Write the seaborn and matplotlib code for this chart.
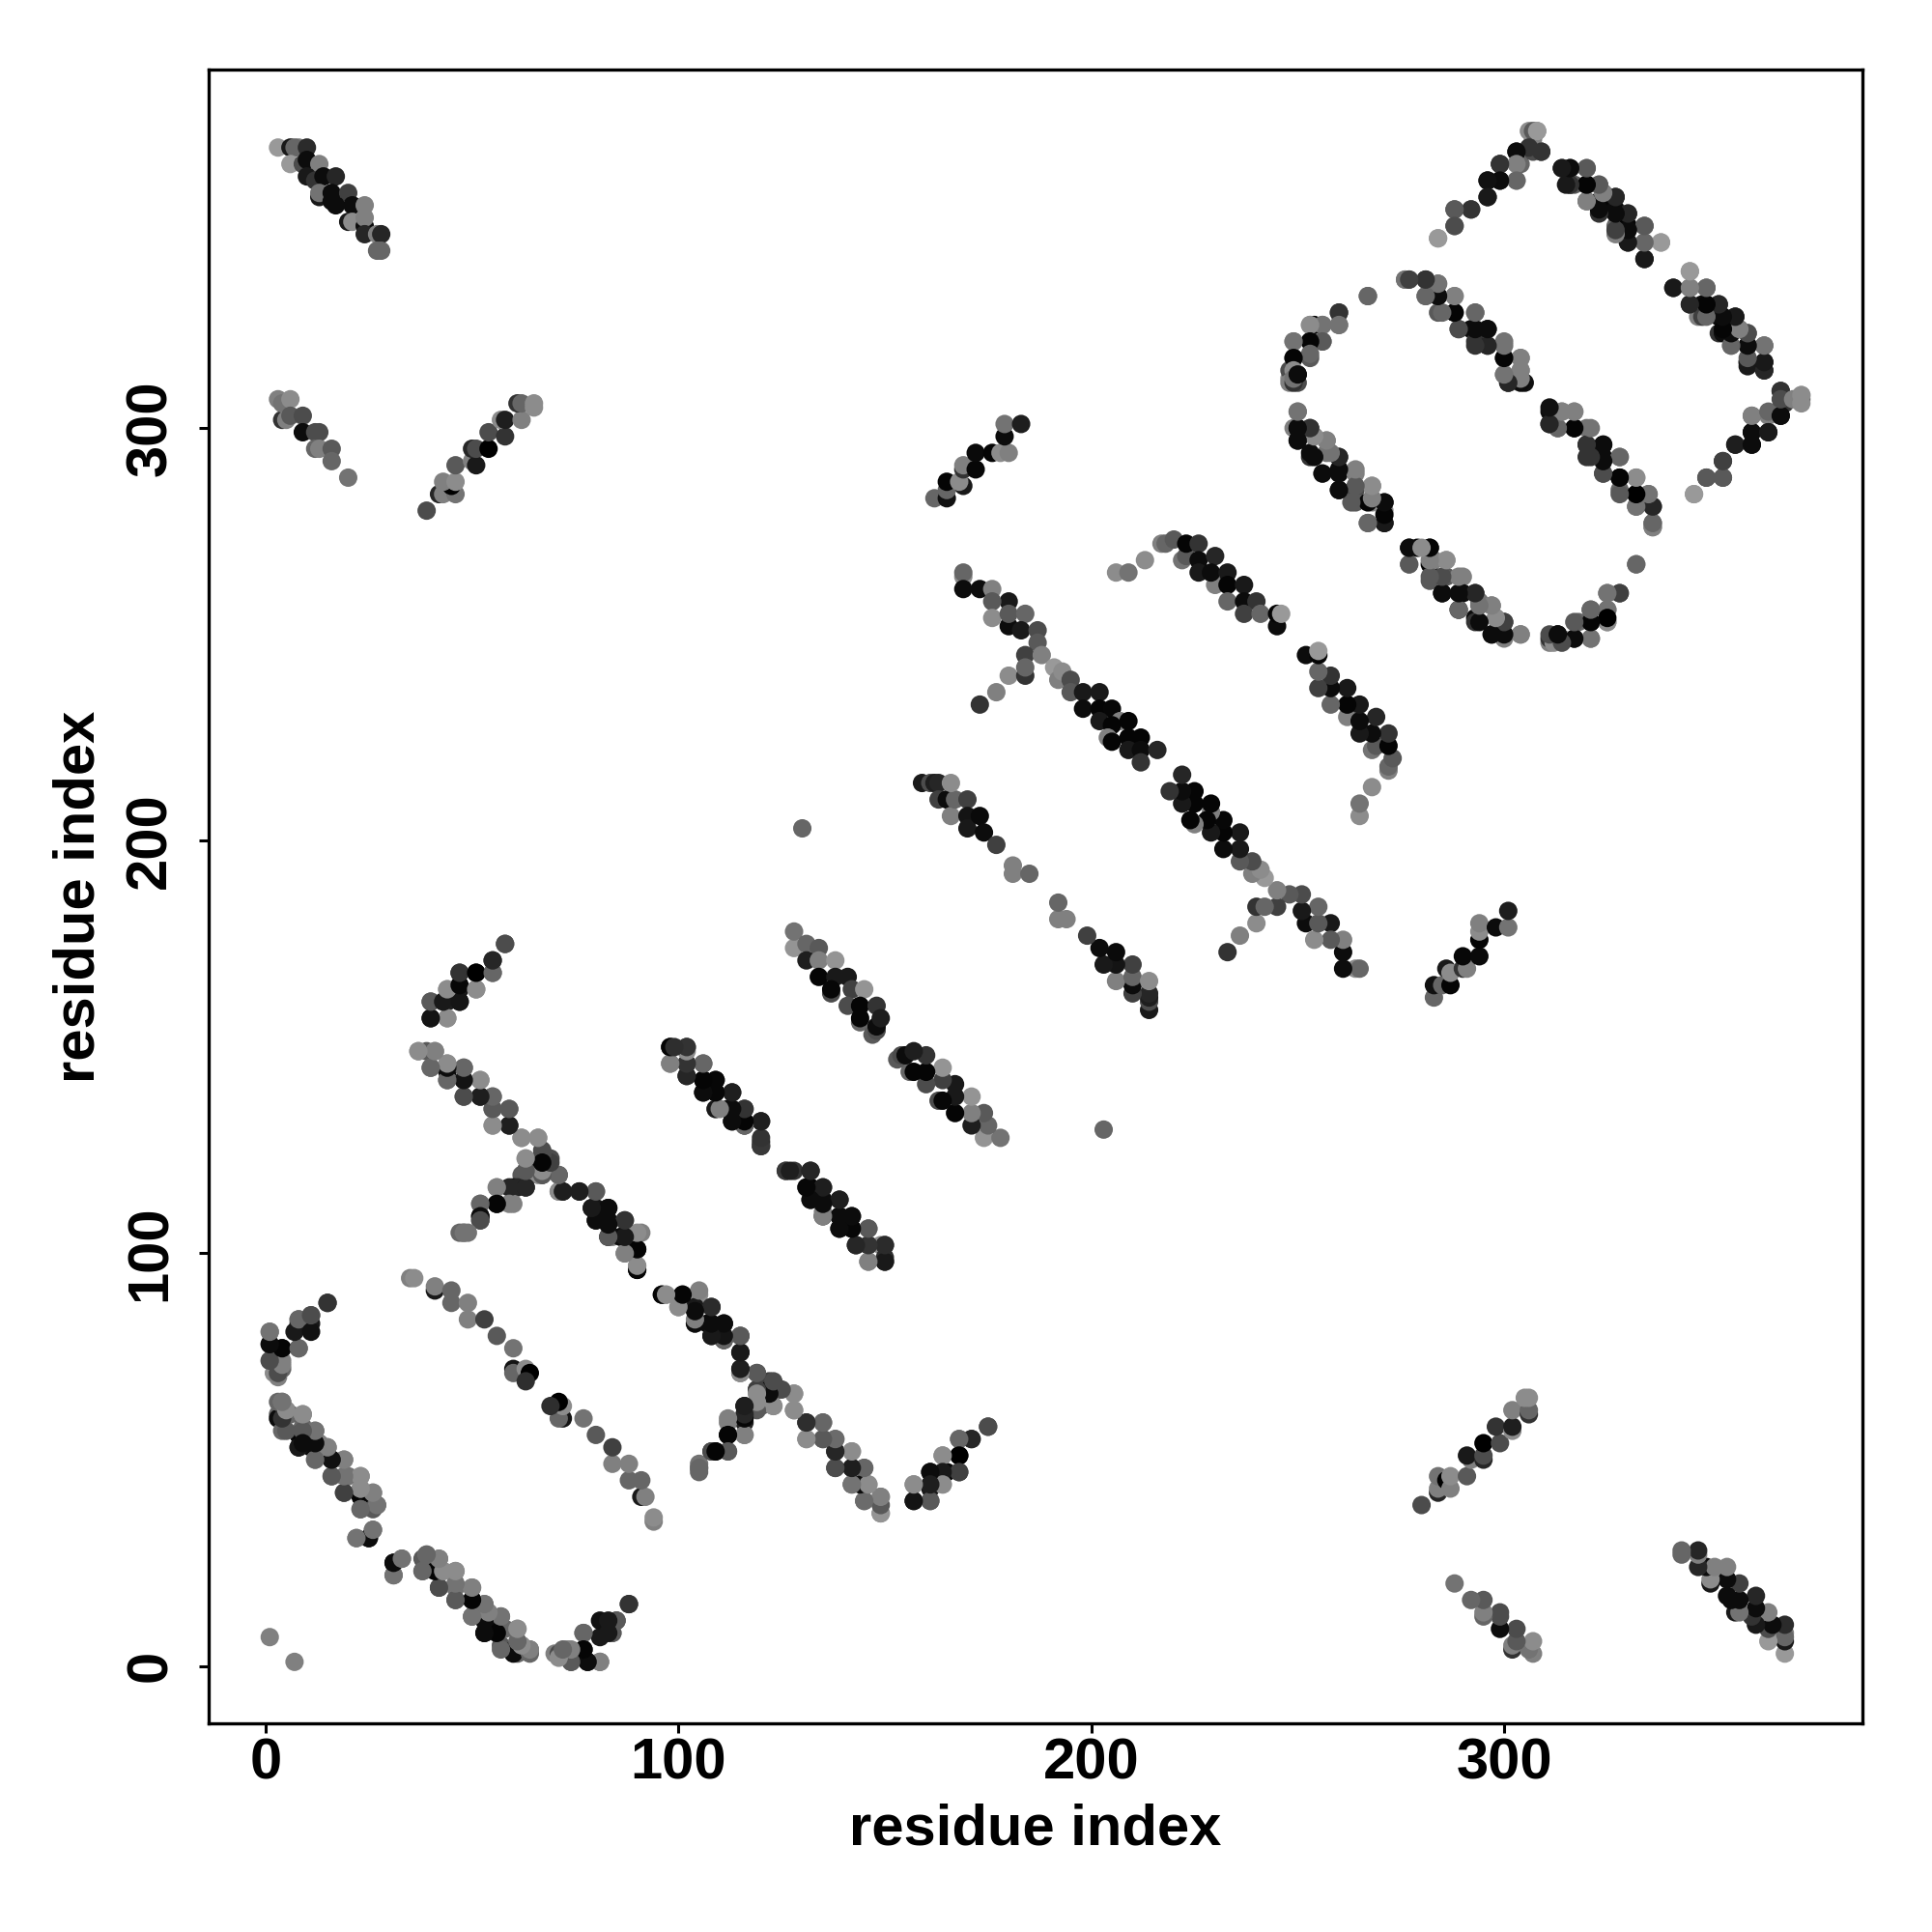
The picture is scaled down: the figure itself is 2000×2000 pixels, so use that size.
import matplotlib
matplotlib.use("Agg")
import matplotlib.pyplot as plt
import pandas as pd
import seaborn as sns

# Contacts as (residue i, residue j, gray shade); the map is symmetric.
band_a = [(3,368,.6),(6,368,.1),(8,368,.5),(7,368,.4),(10,368,.17),(6,364,.6),(9,364,.3),(10,365,.05),(13,364,.5),
          (10,361,.1),(12,360,.2),(14,361,.05),(17,361,.15),(13,356,.1),(13,357,.45),(16,357,.05),(20,357,.25),
          (16,355,.05),(17,354,.05),(21,354,.05),(24,354,.5),(20,350,.1),(21,350,.55),(24,349,.05),(24,351,.5),
          (24,347,.15),(27,347,.5),(28,347,.15),(27,343,.4),(28,343,.4)]
band_b = [(4,302,.2),(3,307,.5),(4,306,.45),(6,307,.55),(5,302,.5),(6,303,.35),(9,303,.3),(9,299,.05),(12,299,.3),
          (13,299,.3),(12,295,.4),(13,295,.5),(16,295,.35),(16,292,.4),(20,288,.45)]
band_c = [(39,280,.3),(42,284,.15),(43,284,.5),(46,284,.45),(45,286,.0),(43,287,.5),(46,287,.55),(46,291,.35),
          (50,292,.5),(51,291,.1),(50,295,.15),(51,295,.3),(54,295,.0),(54,299,.3),(58,298,.2),(57,302,.55),
          (58,302,.12),(62,302,.5),(61,306,.2),(62,306,.4),(65,306,.55),(65,305,.55)]
band_d = [(284,346,.6),(288,353,.35),(288,349,.35),(292,353,.25),(296,356,.12),(296,360,.05),(299,360,.05),
          (303,360,.5),(299,364,.1),(304,364,.4),(303,367,.05),(309,367,.2),(307,367,.3),(307,370,.5),(306,372,.55),
          (308,372,.55)]
band_e = [(314,363,.15),(316,363,.1),(320,363,.45),(316,359,.1),(317,359,.35),(320,359,.05),(323,359,.3),(320,355,.4),
          (323,355,.05),(324,357,.5),(327,356,.1),(324,353,.02),(327,353,.05),(330,352,.15),(327,349,.4),(330,349,.02),
          (334,349,.4),(330,345,.15),(334,341,.1),(334,345,.5),(338,345,.6)]
band_f = [(341,334,.1),(345,338,.6),(345,334,.4),(349,334,.35),(345,330,.1),(348,330,.05),(352,330,.15),(347,327,.5),
          (348,327,.25),(352,327,.05),(356,327,.15),(352,323,.2),(353,323,.05),(357,324,.5),(359,323,.35),(355,320,.5),
          (359,320,.02),(363,320,.35),(359,316,.2),(359,315,.1),(363,316,.05),(363,314,.1)]
band_g = [(367,309,.2),(372,307,.35),(372,308,.6),(368,306,.2),(367,303,.05),(364,303,.5),(360,303,.4),(364,299,.2),
          (360,299,.05),(360,296,.07),(356,296,.1),(353,292,.2),(353,288,.35),(349,288,.3),(346,284,.6)]
band_h = [(267,332,.4),(260,328,.25),(260,325,.45),(256,325,.45),(253,325,.55),(254,325,.0),(249,321,.45),(253,321,.02),
          (256,321,.4),(249,317,.05),(253,317,.35),(248,312,.55),(250,311,.3),(248,314,.3),(250,313,.05)]
band_i = [(276,336,.5),(277,336,.4),(281,336,.15),(284,335,.45),(281,332,.45),(284,332,.0),(288,332,.55),(284,328,.35),
          (288,328,.02),(293,328,.4),(289,324,.3),(292,324,.05),(296,324,.05),(293,321,.2),(296,320,.2),(300,321,.45),
          (300,317,.02),(304,317,.5),(300,313,.4),(304,314,.5),(301,311,.15),(305,311,.07)]
band_j = [(311,304,.05),(312,304,.5),(314,304,.5),(317,304,.5),(311,301,.15),(313,300,.45),(317,300,.02),(320,300,.45),
          (320,296,.15),(324,296,.05),(320,293,.2),(324,293,.05),(328,293,.4),(324,289,.3),(328,288,.02),(332,288,.5),
          (328,285,.4),(332,284,.05),(335,284,.45),(332,281,.4),(336,281,.2),(336,276,.45),(336,277,.25)]
band_k = [(250,304,.5),(249,300,.5),(250,300,.05),(253,300,.25),(250,297,.05),(254,298,.55),(257,297,.5),(253,293,.2),
          (253,294,.05),(257,294,.45),(260,293,.15),(256,289,.4),(260,289,.05),(264,289,.5),(260,285,.05),(264,285,.3),
          (268,286,.55),(264,282,.35),(268,282,.5),(271,282,.02),(267,277,.35),(271,277,.05),(271,280,.55)]
band_l = [(277,271,.1),(279,271,.02),(282,271,.05),(277,267,.4),(282,267,.02),(283,268,.5),(286,268,.55),(282,263,.35),
          (286,264,.35),(290,264,.5),(285,260,.05),(290,260,.05),(293,260,.15),(289,256,.05),(294,258,.45),(297,257,.5),
          (293,254,.05),(298,254,.55),(300,253,.2),(297,250,.05),(300,250,.05),(304,250,.45)]
band_m = [(332,267,.4),(328,260,.2),(325,260,.45),(325,256,.45),(321,256,.35),(325,253,.55),(321,253,.02),(318,253,.4),
          (321,249,.45),(317,249,.02),(314,249,.55),(311,248,.5),(311,249,.2),(312,249,.45),(313,250,.05)]
band_o = [(169,264,.55),(169,265,.4),(169,261,.05),(173,261,.05),(176,261,.5),(180,258,.1),(176,258,.35),(180,252,.05),
          (176,254,.55),(180,255,.35),(184,255,.4),(183,251,.1),(187,251,.3),(187,248,.35),(184,245,.25),(188,245,.5),
          (180,240,.55),(184,240,.2),(184,242,.4),(177,236,.5),(173,233,.2),(191,242,.6),(192,239,.5),(193,241,.55),
          (195,239,.3),(195,236,.35)]
band_p = [(198,236,.1),(202,236,.1),(198,232,.05),(202,232,.02),(205,232,.03),(202,229,.1),(207,229,.5),(205,228,.02),
          (209,229,.02),(204,225,.5),(205,224,.02),(209,225,.02),(212,225,.02),(209,222,.1),(212,222,.05),(216,222,.15),
          (212,219,.2)]
band_r = [(217,272,.5),(218,272,.4),(220,273,.35),(222,268,.45),(223,269,.35),(223,272,.02),(226,272,.2),(226,268,.05),
          (230,269,.15),(226,265,.1),(230,262,.5),(229,265,.05),(233,265,.1),(233,262,.02),(237,262,.1),(233,258,.4),
          (237,258,.05),(240,258,.2),(237,255,.25),(241,255,.4),(245,252,.05),(245,255,.02),(246,255,.6),(213,268,.55),
          (206,265,.55),(209,265,.45)]
band_t = [(159,214,.1),(161,214,.3),(162,214,.12),(163,214,.15),(163,210,.25),(165,210,.05),(166,206,.5),(167,210,.4),
          (166,214,.55),(170,210,.25),(170,206,.08),(170,203,.1),(173,206,.04),(174,202,.05),(177,199,.25),(181,194,.5),
          (181,192,.5),(185,192,.4)]
band_u = [(283,162,.4),(283,165,.07),(285,165,.4),(287,165,.02),(286,169,.1),(287,168,.55),(290,169,.2),(291,169,.5),
          (290,172,.03),(294,172,.04),(294,176,.02),(294,178,.55),(294,180,.5),(298,179,.05),(301,179,.45),(301,183,.12)]
band_w = [(128,174,.58),(128,178,.45),(131,175,.4),(134,174,.35),(131,171,.12),(134,171,.5),(138,171,.58),(134,167,.02),
          (138,167,.1),(141,167,.1),(137,163,.3),(137,164,.03),(142,164,.25),(145,164,.58),(141,160,.3),(144,160,.02),
          (148,160,.2),(144,156,.4),(144,157,.02),(147,153,.35),(148,154,.3),(148,155,.05),(149,157,.12)]
band_y = [(126,120,.22),(128,120,.2),(132,120,.12),(131,116,.4),(132,116,.02),(135,116,.2),(132,113,.05),(135,113,.05),
          (139,113,.12),(135,109,.1),(135,110,.5),(139,109,.03),(142,109,.03),(139,106,.05),(142,106,.02),(146,106,.4),
          (143,102,.15),(146,102,.2),(149,102,.55),(150,102,.2),(146,98,.5),(150,98,.02),(150,99,.18)]
band_ab = [(98,150,.1),(102,150,.17),(98,146,.5),(102,146,.2),(106,146,.35),(102,143,.15),(106,142,.03),(109,142,.05),
           (106,139,.05),(109,139,.05),(113,139,.12),(109,135,.5),(112,135,.05),(116,135,.12),(113,132,.05),(116,131,.03),
           (120,132,.15),(120,126,.22),(120,127,.12)]
band_ad = [(96,90,.02),(97,90,.55),(101,90,.02),(105,90,.55),(100,87,.5),(104,87,.1),(108,87,.2),(104,83,.35),(107,83,.05),
           (111,83,.05),(108,80,.05),(111,79,.1),(115,80,.35),(115,76,.12),(115,71,.55),(115,72,.12)]
band_z1 = [(58,175,.3),(55,171,.15),(55,168,.4),(51,168,.0),(47,168,.25),(51,164,.55),(47,164,.1),(44,164,.55),
           (40,161,.35),(47,161,.05),(44,161,.12),(40,157,.08),(44,157,.55)]
band_z2 = [(37,149,.58),(39,149,.35),(41,149,.5),(40,145,.42),(44,144,.05),(44,146,.55),(48,145,.4),(44,142,.45),
           (48,142,.12),(52,142,.55),(48,138,.3),(52,138,.15),(55,138,.42),(55,135,.35),(59,135,.4),(55,131,.55),
           (59,131,.18),(62,128,.55),(66,128,.55),(67,125,.3),(63,123,.55),(66,122,.05),(69,123,.3),(62,119,.35),
           (64,119,.55),(67,119,.25),(66,119,.55),(71,119,.35),(56,116,.5),(60,116,.03),(61,116,.15),(63,116,.12),
           (60,112,.5),(56,112,.02),(52,112,.35),(52,108,.3),(52,109,.02),(47,105,.4),(48,105,.4),(71,115,.55),
           (72,115,.12),(76,115,.1),(80,115,.35),(79,111,.4),(80,111,.08),(83,111,.05),(80,108,.1),(83,108,.05),
           (87,108,.17),(83,104,.05),(84,104,.5),(86,104,.05),(91,105,.5),(87,100,.55),(90,101,.02),(90,96,.02),
           (90,97,.55)]
band_v = [(119,71,.4),(119,67,.35),(120,67,.55),(122,69,.25),(124,67,.3),(122,67,.02),(128,66,.55),(128,62,.55),(116,63,.15),
          (120,63,.35),(123,63,.55),(116,59,.15),(112,59,.5),(116,56,.5),(112,56,.02),(112,52,.4),(109,52,.05),(108,52,.3),
          (105,49,.45),(105,48,.45),(131,59,.12),(135,59,.35),(131,55,.55),(135,55,.35),(138,55,.4),(138,52,.12),(142,52,.55),
          (138,48,.3),(142,48,.08),(145,48,.4),(142,44,.4),(145,44,.05),(146,44,.55),(145,40,.4),(149,41,.5),(149,37,.55),
          (157,44,.55),(157,40,.08),(161,40,.35),(161,43,.1),(161,47,.08),(164,44,.55),(165,47,.03),(168,47,.2),(164,51,.55),
          (168,51,.0),(168,55,.4),(171,55,.15),(175,58,.3)]
band_ac = [(35,94,.5),(36,94,.55),(41,91,.1),(41,92,.5),(45,91,.4),(45,88,.4),(49,88,.5),(49,84,.5),(53,84,.25),
           (56,80,.35),(60,77,.45),(60,72,.08),(60,71,.4),(63,72,.55),(64,71,.0),(63,69,.18)]
band_ae = [(15,88,.2),(11,85,.35),(8,84,.35),(8,83,.1),(11,83,.1),(1,81,.5),(8,77,.4),(1,78,.05),(4,77,.02),(1,74,.35),
           (4,74,.5),(2,71,.55),(4,72,.4)]
band_af = [(3,61,.4),(3,60,.05),(3,64,.4),(4,64,.5),(5,62,.55),(6,61,.4),(4,57,.4),(9,58,.4),(9,61,.55),(8,56,.02),
           (12,57,.45),(8,53,.05),(11,53,.05),(13,54,.5),(15,53,.45),(12,50,.45),(16,50,.02),(19,50,.5),(16,46,.35),
           (20,46,.45),(23,46,.55),(19,42,.3),(23,41,.02),(23,43,.55),(26,42,.5),(23,38,.4),(27,39,.4),(22,31,.45),
           (25,31,.05),(26,33,.45)]
band_ag = [(31,25,.05),(33,26,.45),(31,22,.45),(38,26,.35),(39,27,.45),(38,23,.4),(42,26,.5),(43,23,.55),(42,19,.25),(46,23,.55),
           (46,19,.45),(46,16,.35),(50,19,.5),(50,16,.07),(53,15,.5),(50,12,.4),(54,12,.05),(57,12,.45),(57,9,.35),(61,9,.55),
           (53,8,.1),(54,9,.05),(57,5,.35),(60,4,.2),(62,5,.55),(64,4,.45),(70,3,.5),(71,3,.3),(73,4,.5),(74,1,.3),(77,4,.02),
           (78,1,.05),(81,1,.45),(77,8,.4),(81,7,.1),(84,8,.4),(81,11,.07),(85,11,.3),(88,15,.2)]
band_misc = [(1,7,.5),(130,203,.4)]

bands = [band_f, band_g, band_j, band_l, band_m, band_ab, band_ad, band_v, band_ag,
         band_a, band_b, band_c, band_d, band_e, band_h, band_i, band_k, band_o, band_p, band_r,
         band_t, band_u, band_w, band_y, band_z1, band_z2, band_ac, band_ae, band_af, band_misc]
tick_values = [0, 100, 200, 300]
axis_title = "residue index"

sns.set_theme(style="white")
plt.rcParams["font.family"] = ["Liberation Sans", "DejaVu Sans"]
plt.rcParams["font.weight"] = "bold"

rows = [c for band in bands for c in band]
upper = pd.DataFrame(rows, columns=["i", "j", "shade"])
lower = upper.rename(columns={"i": "j", "j": "i"})
contacts = pd.concat([upper, lower], ignore_index=True)

fig = plt.figure(figsize=(10, 10), dpi=200)
ax = fig.add_axes([0.108, 0.108, 0.856, 0.856])
sns.scatterplot(data=contacts, x="i", y="j", hue="shade", palette="gray", hue_norm=(0, 1),
                s=47, linewidth=0, legend=False, ax=ax)
ax.set_xlim(-13.8, 386.8)
ax.set_ylim(-13.9, 386.9)
ax.set_xticks(tick_values)
ax.set_yticks(tick_values)
ax.tick_params(axis="x", length=3.6, width=1.1, color="black", labelcolor="black",
               labelsize=21.5, bottom=True, pad=1.5)
ax.tick_params(axis="y", length=3.6, width=1.1, color="black", labelcolor="black",
               labelsize=21.5, left=True, pad=8)
for lab in ax.get_xticklabels():
    lab.set_fontweight("bold")
for lab in ax.get_yticklabels():
    lab.set_fontweight("bold")
    lab.set_rotation(90)
    lab.set_verticalalignment("center")
for spine in ax.spines.values():
    spine.set_visible(True)
    spine.set_color("black")
    spine.set_linewidth(1.2)
ax.set_xlabel(axis_title, fontsize=21.5, fontweight="bold", color="black")
ax.set_ylabel(axis_title, fontsize=21.5, fontweight="bold", color="black")
ax.xaxis.set_label_coords(0.5, -0.0645)
ax.yaxis.set_label_coords(-0.0785, 0.5)
ax.xaxis.label.set_verticalalignment("center")
ax.yaxis.label.set_verticalalignment("center")
fig.savefig("out.png", dpi=200, facecolor="white")
